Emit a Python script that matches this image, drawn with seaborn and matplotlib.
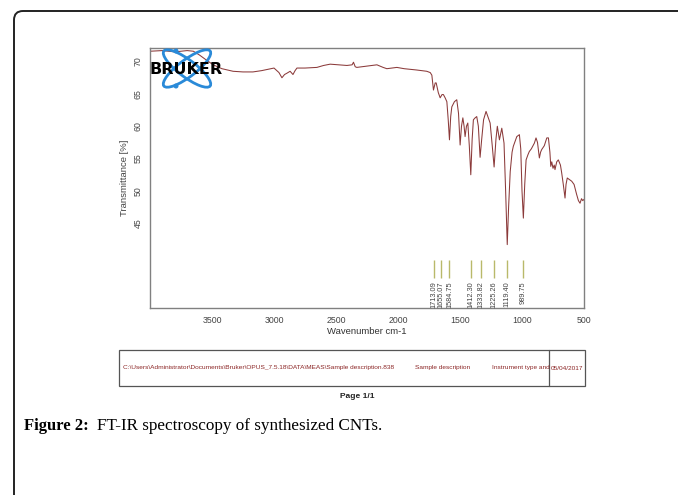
import numpy as np
import matplotlib
matplotlib.use("Agg")
import matplotlib.pyplot as plt
import seaborn as sns
from matplotlib.patches import Ellipse, Rectangle, FancyBboxPatch, Circle

# FT-IR spectrum (wavenumber cm-1, transmittance %)
wavenumber = [4000, 3900, 3800, 3700, 3650, 3600, 3550, 3490, 3420, 3330,
              3250, 3170, 3100, 3050, 3000, 2960, 2936, 2915, 2896, 2870,
              2847, 2830, 2815, 2750, 2654, 2600, 2547, 2480, 2412, 2370,
              2359, 2345, 2332, 2250, 2170, 2120, 2090, 2050, 2009, 1950,
              1850, 1768, 1740, 1727, 1714, 1700, 1692, 1675, 1660, 1645,
              1634, 1620, 1606, 1595, 1585, 1575, 1566, 1545, 1526, 1512,
              1499, 1488, 1477, 1467, 1459, 1448, 1437, 1425, 1413, 1402,
              1392, 1378, 1365, 1352, 1338, 1325, 1310, 1290, 1275, 1257,
              1240, 1225, 1210, 1199, 1182, 1163, 1145, 1132, 1119, 1108,
              1095, 1080, 1070, 1042, 1021, 1010, 1000, 989, 978, 967,
              952, 941, 925, 900, 887, 875, 860, 850, 841, 820,
              800, 787, 775, 768, 760, 750, 740, 734, 720, 707,
              690, 680, 667, 653, 645, 635, 620, 599, 580, 560,
              545, 532, 520, 510, 500]
transmittance = [71.6, 71.7, 71.5, 71.7, 71.6, 71.0, 70.3, 69.5, 68.9, 68.5,
                 68.4, 68.4, 68.6, 68.8, 69.0, 68.3, 67.5, 68.0, 68.2, 68.5,
                 68.0, 68.6, 69.0, 69.0, 69.1, 69.4, 69.6, 69.5, 69.4, 69.5,
                 69.9, 69.2, 69.1, 69.3, 69.5, 69.1, 68.9, 69.0, 69.1, 68.9,
                 68.7, 68.5, 68.3, 67.9, 65.6, 66.7, 66.7, 65.2, 64.4, 64.9,
                 64.9, 64.4, 63.8, 61.0, 57.9, 61.5, 63.0, 63.8, 64.1, 62.0,
                 57.1, 60.0, 61.3, 60.0, 58.4, 60.0, 60.5, 57.0, 52.5, 58.0,
                 61.0, 61.3, 61.5, 60.0, 55.2, 58.0, 61.0, 62.3, 61.5, 60.5,
                 57.0, 53.7, 58.0, 60.0, 57.9, 59.7, 57.4, 50.0, 41.7, 47.5,
                 53.0, 56.0, 56.9, 58.4, 58.7, 56.5, 50.0, 45.8, 51.0, 54.8,
                 55.6, 56.1, 56.5, 57.4, 58.2, 57.5, 55.1, 56.0, 56.4, 57.0,
                 58.2, 58.2, 56.0, 53.8, 54.5, 53.5, 54.0, 53.3, 54.5, 54.8,
                 54.0, 52.8, 51.0, 48.9, 51.0, 52.0, 51.8, 51.5, 51.0, 49.5,
                 48.5, 48.1, 48.8, 48.5, 48.7]

# picked peaks
peaks = [1713.09, 1655.07, 1584.75, 1412.30, 1333.82, 1225.26, 1119.40, 989.75]

xticks = [3500, 3000, 2500, 2000, 1500, 1000, 500]
yticks = [45, 50, 55, 60, 65, 70]

sns.set_style("white")
plt.rcParams['font.family'] = ['Liberation Sans', 'DejaVu Sans']

fig = plt.figure(figsize=(6.78, 4.95), dpi=100)
W, H = 678, 495

# outer rounded frame (only left and top visible)
frame = FancyBboxPatch((0.14, -0.6), 8.0, 4.84 + 0.6,
                       boxstyle="round,pad=0,rounding_size=0.09",
                       transform=fig.dpi_scale_trans, fill=False,
                       edgecolor='#222222', linewidth=1.4)
fig.add_artist(frame)

ax = fig.add_axes([150 / W, (H - 308) / H, 434 / W, 260 / H])
sns.lineplot(x=wavenumber, y=transmittance, ax=ax, color='#8b3a3a',
             linewidth=0.75, sort=False, estimator=None)
ax.set_xlim(4000, 500)
ax.set_ylim(31.9, 72.1)
ax.set_xticks(xticks)
ax.set_yticks(yticks)
ax.tick_params(axis='both', direction='out', length=3.5, width=0.8,
               color='#808080', labelsize=6.3, labelcolor='#444444', pad=2)
plt.setp(ax.get_yticklabels(), rotation=90, va='center')
for s in ax.spines.values():
    s.set_color('#808080')
    s.set_linewidth(1.0)
ax.set_xlabel('Wavenumber cm-1', fontsize=6.8, color='#333333', labelpad=2)
ax.set_ylabel('Transmittance [%]', fontsize=6.8, color='#444444', labelpad=3)

# peak markers
ax.vlines(peaks, 0.115, 0.185, transform=ax.get_xaxis_transform(),
          color='#b9b96a', linewidth=1.0)
for p in peaks:
    ax.text(p, 0.103, f"{p:.2f}", transform=ax.get_xaxis_transform(),
            rotation=90, ha='center', va='top', fontsize=5.3, color='#444444')

# Bruker logo
lg = fig.add_axes([150 / W, (H - 90) / H, 75 / W, 43 / H])
lg.set_xlim(0, 75)
lg.set_ylim(0, 43)
lg.axis('off')
lg.patch.set_alpha(0)
for ang in (37, -37):
    lg.add_patch(Ellipse((37, 21.5), 58, 17, angle=ang, fill=False,
                         edgecolor='#2a8ad8', linewidth=2.0))
lg.add_patch(Circle((26, 39), 1.8, color='#2a8ad8'))
lg.add_patch(Circle((26, 4), 1.8, color='#2a8ad8'))
lg.text(36.5, 21, 'BRUKER', ha='center', va='center', fontsize=11.5,
        fontweight='bold', color='black', family='DejaVu Sans')

# footer box of the report
fig.add_artist(Rectangle((119 / W, (H - 386) / H), 466 / W, 36 / H,
                         transform=fig.transFigure, fill=False,
                         edgecolor='#555555', linewidth=0.9))
fig.add_artist(plt.Line2D([549 / W, 549 / W], [(H - 386) / H, (H - 350) / H],
                          transform=fig.transFigure, color='#555555',
                          linewidth=0.9))
yrow = (H - 368) / H
red = '#8b2525'
fs = 4.65
fig.text(123 / W, yrow,
         'C:\\Users\\Administrator\\Documents\\Bruker\\OPUS_7.5.18\\DATA\\MEAS\\Sample description.838',
         fontsize=fs, color=red, va='center', ha='left')
fig.text(415 / W, yrow, 'Sample description', fontsize=fs, color=red,
         va='center', ha='left')
fig.text(492 / W, yrow, 'Instrument type and', fontsize=fs, color=red,
         va='center', ha='left')
fig.text(551 / W, yrow, '05/04/2017', fontsize=fs, color=red,
         va='center', ha='left')
fig.text(357 / W, (H - 396) / H, 'Page 1/1', fontsize=6.0, fontweight='bold',
         color='#222222', ha='center', va='center')

# caption
fig.text(24 / W, (H - 430) / H, 'Figure 2:', fontsize=12.0, fontweight='bold',
         family='Liberation Serif', color='black', va='baseline', ha='left')
fig.text(97 / W, (H - 430) / H, 'FT-IR spectroscopy of synthesized CNTs.',
         fontsize=12.3, family='Liberation Serif', color='black',
         va='baseline', ha='left')

fig.savefig('out.png', dpi=100)
